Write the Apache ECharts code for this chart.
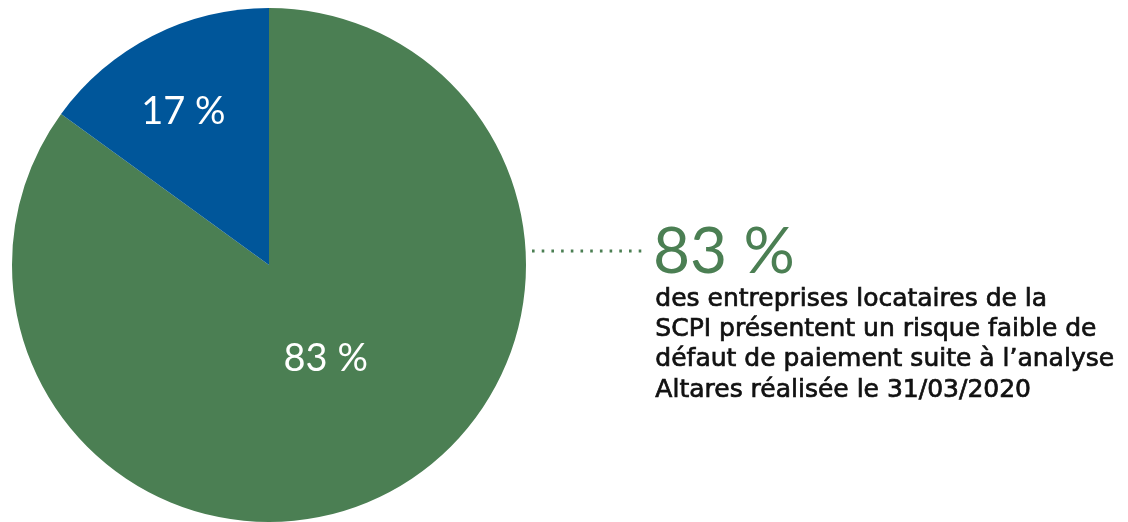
<!DOCTYPE html>
<html>
<head>
<meta charset="utf-8">
<script src="https://cdn.jsdelivr.net/npm/echarts@6/dist/echarts.min.js"></script>
<style>
  html, body { margin: 0; padding: 0; background: #fff; }
  #chart { width: 1128px; height: 522px; }
</style>
</head>
<body>
<div id="chart"></div>
<script>
const categories = ['Risque faible', 'Autres']
// shares as drawn in the picture (the blue wedge spans ~54°)
const sliceShares = [85, 15]
// values printed on the slices
const labelValues = [83, 17]
const colors = ['#4b7f53', '#00569a']
const labelOffsets = [[-3, -23], [-26, -36]]
const headline = '83 %'
const descLines = [
  'des entreprises locataires de la',
  'SCPI présentent un risque faible de',
  'défaut de paiement suite à l\u2019analyse',
  'Altares réalisée le 31/03/2020'
]

const chart = echarts.init(document.getElementById('chart'))

const option = {
  animation: false,
  series: [
    {
      type: 'pie',
      center: [269, 265],
      radius: [0, 257],
      startAngle: 90,
      clockwise: true,
      silent: true,
      label: {
        show: true,
        position: 'inside',
        color: '#fff',
        fontFamily: 'Lato',
        fontSize: 38,
        formatter: p => labelValues[p.dataIndex] + ' %'
      },
      labelLine: { show: false },
      itemStyle: { borderWidth: 0 },
      data: categories.map((name, i) => ({
        name,
        value: sliceShares[i],
        itemStyle: { color: colors[i] },
        label: { offset: labelOffsets[i] }
      }))
    }
  ],
  graphic: [
    {
      type: 'line',
      shape: { x1: 532, y1: 251, x2: 642, y2: 251 },
      style: { stroke: '#4b7f53', lineWidth: 2.8, lineDash: [2.6, 7.1] }
    },
    {
      type: 'text',
      left: 653,
      top: 220,
      style: {
        text: headline,
        fill: '#4b7f53',
        font: '64px Lato'
      }
    },
    {
      type: 'text',
      left: 655,
      top: 284,
      style: {
        text: descLines.join('\n'),
        fill: '#111',
        stroke: '#111',
        lineWidth: 0.7,
        font: '25px "DejaVu Sans"',
        lineHeight: 30.3
      }
    }
  ]
}

chart.setOption(option)
window.addEventListener('resize', () => chart.resize())
</script>
</body>
</html>
